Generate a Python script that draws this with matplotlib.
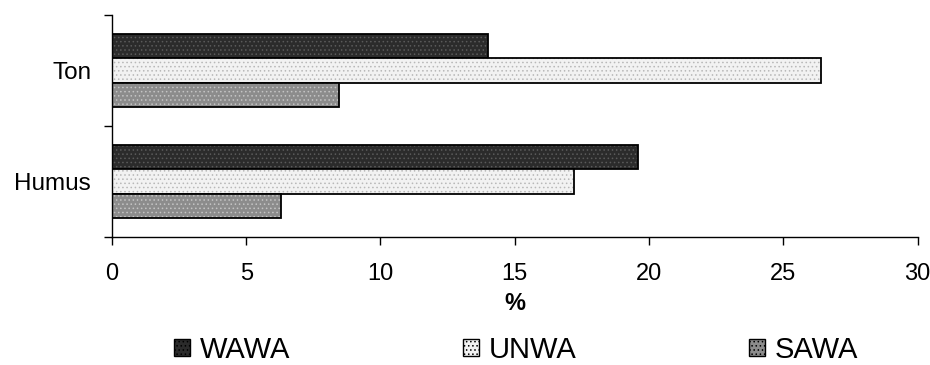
import matplotlib
matplotlib.use("Agg")
import matplotlib.pyplot as plt
from matplotlib.patches import Patch
import numpy as np

plt.rcParams['font.family'] = ['Liberation Sans', 'DejaVu Sans']
plt.rcParams['hatch.linewidth'] = 0.6

# data (bottom category first so that Ton ends up on top)
categories = ['Humus', 'Ton']
series = ['WAWA', 'UNWA', 'SAWA']
wawa = [19.6, 14.0]
unwa = [17.2, 26.4]
sawa = [6.3, 8.45]

values = [wawa, unwa, sawa]
face_colors = ['#2b2b2b', '#f2f2f2', '#8c8c8c']
hatch_colors = ['#5a5a5a', '#b8b8b8', '#c4c4c4']

fig = plt.figure(figsize=(9.3, 3.65), dpi=100)
ax = fig.add_axes([0.1204, 1 - 237 / 365, 0.9866 - 0.1204, (237 - 15) / 365])

y = np.arange(len(categories))
h = 0.22
offsets = [h, 0, -h]

for vals, off, fc, hc in zip(values, offsets, face_colors, hatch_colors):
    # fill with dotted texture, then black outline on top
    ax.barh(y + off, vals, height=h, color=fc, edgecolor=hc, hatch='....', linewidth=0)
    ax.barh(y + off, vals, height=h, fill=False, edgecolor='black', linewidth=1.3)

ax.set_xlim(0, 30)
ax.set_ylim(-0.5, 1.5)
ax.set_xticks(np.arange(0, 31, 5))
ax.set_yticks([-0.5, 0.5, 1.5])
ax.set_yticklabels([])
ax.set_yticks(y, minor=True)
ax.set_yticklabels(categories, minor=True)
ax.tick_params(axis='y', which='major', length=6, width=1, direction='out')
ax.tick_params(axis='y', which='minor', length=0, pad=15, labelsize=17.5)
ax.tick_params(axis='x', length=6, width=1, direction='out', pad=13, labelsize=17)

for s in ['top', 'right']:
    ax.spines[s].set_visible(False)
ax.spines['left'].set_linewidth(1)
ax.spines['bottom'].set_linewidth(1)

ax.set_xlabel('%', fontsize=17, fontweight='bold', labelpad=5)

handles = [Patch(facecolor=fc, edgecolor='black', hatch='....', linewidth=1.0)
           for fc in face_colors]
fig.legend(handles, series, loc='center', bbox_to_anchor=(0.555, 1 - 350 / 365),
           ncol=3, frameon=False, fontsize=21, handlelength=0.55, handleheight=0.55,
           handletextpad=0.35, columnspacing=5.9, borderpad=0)

fig.savefig('out.png', dpi=100)
